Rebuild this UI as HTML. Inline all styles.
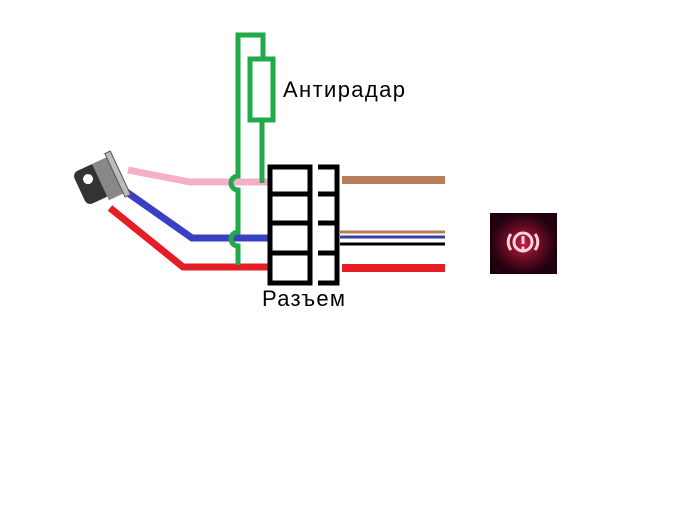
<!DOCTYPE html>
<html><head><meta charset="utf-8"><style>
body{margin:0;background:#fff;width:700px;height:502px;overflow:hidden}
</style></head><body>
<svg width="700" height="502" xmlns="http://www.w3.org/2000/svg">
<rect width="700" height="502" fill="#fff"/>
<polyline points="128,170 190,182 268,182" fill="none" stroke="#f4b0c8" stroke-width="7"/>
<polyline points="118,186 192,238 268,238" fill="none" stroke="#3a3fc4" stroke-width="7"/>
<polyline points="110,208 183,267 268,267" fill="none" stroke="#e51e25" stroke-width="7"/>
<path d="M238,265 V246 a7,7 0 0 1 0,-14 V190 a7,7 0 0 1 0,-14 V35 H263 V58" fill="none" stroke="#22aa4a" stroke-width="5"/>
<rect x="250" y="59" width="23" height="61" fill="#fff" stroke="#22aa4a" stroke-width="5"/>
<line x1="262" y1="120" x2="262" y2="183" stroke="#22aa4a" stroke-width="5"/>
<g transform="rotate(-25 105 180)">
<rect x="78" y="160" width="26" height="36" rx="6" fill="#333"/>
<circle cx="90" cy="172" r="5" fill="#fff"/>
<rect x="100" y="160" width="18" height="40" fill="#888"/>
<rect x="116" y="156" width="6" height="48" fill="#bbb" stroke="#555"/>
</g>
<rect x="270" y="167" width="40" height="116" fill="#fff" stroke="#000" stroke-width="5"/>
<line x1="270" y1="194" x2="310" y2="194" stroke="#000" stroke-width="5"/>
<line x1="270" y1="223" x2="310" y2="223" stroke="#000" stroke-width="5"/>
<line x1="270" y1="253" x2="310" y2="253" stroke="#000" stroke-width="5"/>
<path d="M318,167 H337 V283 H318 M318,194 H337 M318,223 H337 M318,253 H337" fill="none" stroke="#000" stroke-width="5"/>
<line x1="342" y1="180" x2="445" y2="180" stroke="#b77e5c" stroke-width="8"/>
<line x1="340" y1="232" x2="445" y2="232" stroke="#b77e5c" stroke-width="3"/>
<line x1="340" y1="237" x2="445" y2="237" stroke="#3a3fa0" stroke-width="3"/>
<line x1="340" y1="244" x2="445" y2="244" stroke="#000" stroke-width="3"/>
<line x1="342" y1="268" x2="445" y2="268" stroke="#e51e25" stroke-width="8"/>
<defs><radialGradient id="g"><stop offset="0" stop-color="#c0203a"/><stop offset="0.6" stop-color="#5a0a20"/><stop offset="1" stop-color="#200010"/></radialGradient></defs>
<rect x="490" y="213" width="67" height="61" fill="url(#g)"/>
<circle cx="523" cy="242" r="9" fill="none" stroke="#ffd0e0" stroke-width="3"/>
<path d="M511,234 a13,13 0 0 0 0,16 M535,234 a13,13 0 0 1 0,16" fill="none" stroke="#ffd0e0" stroke-width="3"/>
<line x1="523" y1="236" x2="523" y2="244" stroke="#ffd0e0" stroke-width="3"/>
<circle cx="523" cy="248" r="1.6" fill="#ffd0e0"/>
<text x="283" y="97" font-family="Liberation Sans, sans-serif" font-size="22" textLength="122" fill="#000">Антирадар</text>
<text x="262" y="306" font-family="Liberation Sans, sans-serif" font-size="22" textLength="83" fill="#000">Разъем</text>
</svg>
</body></html>
